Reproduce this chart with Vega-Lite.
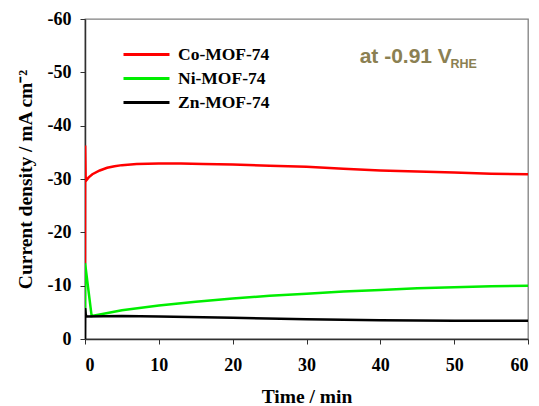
{
  "$schema": "https://vega.github.io/schema/vega-lite/v6.json",
  "width": 443,
  "height": 320,
  "autosize": {"type": "none"},
  "padding": {"left": 85, "top": 19, "right": 11, "bottom": 67},
  "background": "white",
  "config": {
    "view": {"stroke": "#808080", "strokeWidth": 1.3},
    "axis": {
      "labelFont": "Liberation Serif", "labelFontWeight": "bold", "labelFontSize": 18, "labelColor": "black",
      "titleFont": "Liberation Serif", "titleFontWeight": "bold", "titleFontSize": 19.5, "titleColor": "black",
      "domainColor": "#303030", "domainWidth": 1.5, "tickColor": "#303030", "tickSize": 5, "tickWidth": 1, "grid": false
    }
  },
  "datasets": {
    "curves": [
      {"series": "Co-MOF-74", "i": 0, "t": 0, "j": -14.2},
      {"series": "Co-MOF-74", "i": 1, "t": 0.02, "j": -36.3},
      {"series": "Co-MOF-74", "i": 2, "t": 0.08, "j": -30.5},
      {"series": "Co-MOF-74", "i": 3, "t": 0.15, "j": -29.7},
      {"series": "Co-MOF-74", "i": 4, "t": 0.5, "j": -30.3},
      {"series": "Co-MOF-74", "i": 5, "t": 1, "j": -30.9},
      {"series": "Co-MOF-74", "i": 6, "t": 2, "j": -31.6},
      {"series": "Co-MOF-74", "i": 7, "t": 3, "j": -32.1},
      {"series": "Co-MOF-74", "i": 8, "t": 4, "j": -32.4},
      {"series": "Co-MOF-74", "i": 9, "t": 5, "j": -32.6},
      {"series": "Co-MOF-74", "i": 10, "t": 7, "j": -32.8},
      {"series": "Co-MOF-74", "i": 11, "t": 10, "j": -32.9},
      {"series": "Co-MOF-74", "i": 12, "t": 13, "j": -32.9},
      {"series": "Co-MOF-74", "i": 13, "t": 16, "j": -32.8},
      {"series": "Co-MOF-74", "i": 14, "t": 20, "j": -32.7},
      {"series": "Co-MOF-74", "i": 15, "t": 25, "j": -32.5},
      {"series": "Co-MOF-74", "i": 16, "t": 30, "j": -32.3},
      {"series": "Co-MOF-74", "i": 17, "t": 35, "j": -31.9},
      {"series": "Co-MOF-74", "i": 18, "t": 40, "j": -31.6},
      {"series": "Co-MOF-74", "i": 19, "t": 45, "j": -31.4},
      {"series": "Co-MOF-74", "i": 20, "t": 50, "j": -31.2},
      {"series": "Co-MOF-74", "i": 21, "t": 55, "j": -31.0},
      {"series": "Co-MOF-74", "i": 22, "t": 60, "j": -30.9},
      {"series": "Ni-MOF-74", "i": 0, "t": 0, "j": -4.8},
      {"series": "Ni-MOF-74", "i": 1, "t": 0.01, "j": -14.2},
      {"series": "Ni-MOF-74", "i": 2, "t": 0.9, "j": -4.3},
      {"series": "Ni-MOF-74", "i": 3, "t": 2, "j": -4.6},
      {"series": "Ni-MOF-74", "i": 4, "t": 5, "j": -5.4},
      {"series": "Ni-MOF-74", "i": 5, "t": 10, "j": -6.3},
      {"series": "Ni-MOF-74", "i": 6, "t": 15, "j": -7.0},
      {"series": "Ni-MOF-74", "i": 7, "t": 20, "j": -7.6},
      {"series": "Ni-MOF-74", "i": 8, "t": 25, "j": -8.1},
      {"series": "Ni-MOF-74", "i": 9, "t": 30, "j": -8.5},
      {"series": "Ni-MOF-74", "i": 10, "t": 35, "j": -8.9},
      {"series": "Ni-MOF-74", "i": 11, "t": 40, "j": -9.2},
      {"series": "Ni-MOF-74", "i": 12, "t": 45, "j": -9.5},
      {"series": "Ni-MOF-74", "i": 13, "t": 50, "j": -9.7},
      {"series": "Ni-MOF-74", "i": 14, "t": 55, "j": -9.9},
      {"series": "Ni-MOF-74", "i": 15, "t": 60, "j": -10.0},
      {"series": "Zn-MOF-74", "i": 0, "t": 0, "j": 0},
      {"series": "Zn-MOF-74", "i": 1, "t": 0.02, "j": -5.8},
      {"series": "Zn-MOF-74", "i": 2, "t": 0.1, "j": -4.6},
      {"series": "Zn-MOF-74", "i": 3, "t": 0.2, "j": -4.2},
      {"series": "Zn-MOF-74", "i": 4, "t": 5, "j": -4.3},
      {"series": "Zn-MOF-74", "i": 5, "t": 10, "j": -4.2},
      {"series": "Zn-MOF-74", "i": 6, "t": 20, "j": -4.0},
      {"series": "Zn-MOF-74", "i": 7, "t": 30, "j": -3.7},
      {"series": "Zn-MOF-74", "i": 8, "t": 40, "j": -3.5},
      {"series": "Zn-MOF-74", "i": 9, "t": 50, "j": -3.4},
      {"series": "Zn-MOF-74", "i": 10, "t": 60, "j": -3.4}
    ],
    "notes": [
      {"t": 37.2, "j": -51.7, "text": "at -0.91 V", "kind": "main"},
      {"t": 49.5, "j": -50.8, "text": "RHE", "kind": "sub"}
    ]
  },
  "layer": [
    {
      "data": {"name": "curves"},
      "mark": {"type": "line", "strokeWidth": 2.5, "clip": true},
      "encoding": {
        "x": {"field": "t", "type": "quantitative",
          "scale": {"domain": [0, 60], "nice": false},
          "axis": {"title": "Time / min", "values": [0,5,10,15,20,25,30,35,40,45,50,55,60],
            "labelExpr": "datum.value % 10 === 0 ? '' + datum.value : ''", "labelPadding": 12, "titlePadding": 13}},
        "y": {"field": "j", "type": "quantitative",
          "scale": {"domain": [0, -60], "nice": false},
          "axis": {"title": "Current density / mA cm\u207B\u00B2", "values": [0,-5,-10,-15,-20,-25,-30,-35,-40,-45,-50,-55,-60],
            "labelExpr": "datum.value % 10 === 0 ? '' + datum.value : ''", "labelPadding": 9, "titlePadding": 12}},
        "color": {"field": "series", "type": "nominal",
          "scale": {"domain": ["Co-MOF-74", "Ni-MOF-74", "Zn-MOF-74"], "range": ["#ff0000", "#00ee00", "#000000"]},
          "legend": {"title": null, "orient": "none", "legendX": 50, "legendY": 24,
            "symbolType": "M-2.3,0H2.3", "symbolStrokeWidth": 3, "symbolSize": 400,
            "labelFont": "Liberation Serif", "labelFontWeight": "bold", "labelFontSize": 17.5, "labelColor": "black",
            "labelOffset": 20, "rowPadding": 4, "padding": 0}},
        "order": {"field": "i", "type": "quantitative"}
      }
    },
    {
      "data": {"name": "notes"},
      "transform": [{"filter": "datum.kind === 'main'"}],
      "mark": {"type": "text", "align": "left", "baseline": "alphabetic", "font": "Liberation Sans", "fontWeight": "bold", "fontSize": 21, "color": "#8b8052"},
      "encoding": {
        "x": {"field": "t", "type": "quantitative"},
        "y": {"field": "j", "type": "quantitative"},
        "text": {"field": "text"}
      }
    },
    {
      "data": {"name": "notes"},
      "transform": [{"filter": "datum.kind === 'sub'"}],
      "mark": {"type": "text", "align": "left", "baseline": "alphabetic", "font": "Liberation Sans", "fontWeight": "bold", "fontSize": 12.5, "color": "#8b8052"},
      "encoding": {
        "x": {"field": "t", "type": "quantitative"},
        "y": {"field": "j", "type": "quantitative"},
        "text": {"field": "text"}
      }
    }
  ]
}
